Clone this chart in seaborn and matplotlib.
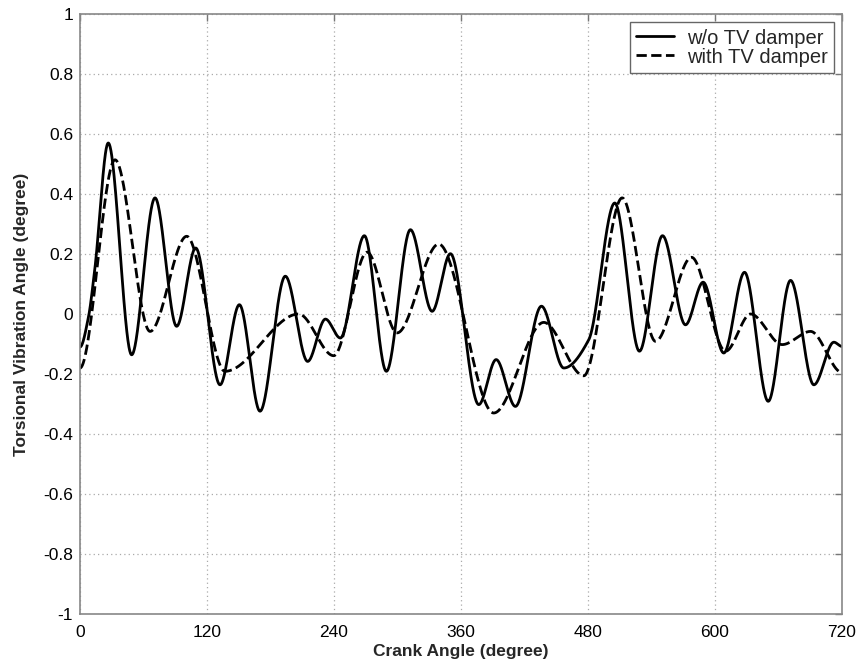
import numpy as np
import pandas as pd
import matplotlib
matplotlib.use("Agg")
import matplotlib.pyplot as plt
import seaborn as sns

# ---- data (turning points of each trace) ----
solid_deg = [0, 8, 14, 26.7, 48.8, 70.9, 91.3, 109.3, 132.3, 150.6, 170.1, 194.0,
             215.1, 231.9, 246.0, 268.7, 289.5, 312.2, 332.7, 350.0, 376.8, 393.2,
             411.4, 436.0, 457.1, 480.7, 505.3, 528.6, 550.4, 572.1, 588.8, 608.3,
             627.9, 650.3, 671.4, 693.4, 712.3, 720]
solid_val = [-0.11, -0.01, 0.15, 0.57, -0.136, 0.387, -0.041, 0.22, -0.236, 0.031, -0.324, 0.126,
             -0.158, -0.017, -0.08, 0.261, -0.191, 0.281, 0.009, 0.201, -0.302, -0.152,
             -0.308, 0.026, -0.18, -0.086, 0.37, -0.124, 0.261, -0.036, 0.106, -0.13,
             0.139, -0.291, 0.112, -0.236, -0.094, -0.108]

dashed_deg = [0, 33.1, 66.2, 100.8, 137.0, 206.6, 239.7, 271.3, 299.6, 338.9, 390.9,
              438.2, 476.0, 512.3, 543.8, 577.8, 610.0, 633.6, 663.5, 690.3, 720]
dashed_val = [-0.18, 0.514, -0.058, 0.259, -0.191, 0.0, -0.139, 0.206, -0.063, 0.233, -0.33,
              -0.028, -0.206, 0.387, -0.091, 0.189, -0.124, 0.0, -0.102, -0.058, -0.195]

series_names = ["w/o TV damper", "with TV damper"]
x_ticks = [0, 120, 240, 360, 480, 600, 720]
y_ticks = [1, 0.8, 0.6, 0.4, 0.2, 0, -0.2, -0.4, -0.6, -0.8, -1]
y_tick_labels = ["1", "0.8", "0.6", "0.4", "0.2", "0", "-0.2", "-0.4", "-0.6", "-0.8", "-1"]


def pchip(x, y, xs):
    x = np.asarray(x, float); y = np.asarray(y, float)
    h = np.diff(x); d = np.diff(y) / h
    n = len(x)
    m = np.zeros(n)
    for k in range(1, n - 1):
        if d[k - 1] * d[k] > 0:
            w1 = 2 * h[k] + h[k - 1]
            w2 = h[k] + 2 * h[k - 1]
            m[k] = (w1 + w2) / (w1 / d[k - 1] + w2 / d[k])
    idx = np.clip(np.searchsorted(x, xs, side="right") - 1, 0, n - 2)
    t = (xs - x[idx]) / h[idx]
    h00 = 2 * t**3 - 3 * t**2 + 1
    h10 = t**3 - 2 * t**2 + t
    h01 = -2 * t**3 + 3 * t**2
    h11 = t**3 - t**2
    return h00 * y[idx] + h10 * h[idx] * m[idx] + h01 * y[idx + 1] + h11 * h[idx] * m[idx + 1]


xs = np.linspace(0, 720, 2881)
df_solid = pd.DataFrame({"deg": xs, "val": pchip(solid_deg, solid_val, xs)})
df_dash = pd.DataFrame({"deg": xs, "val": pchip(dashed_deg, dashed_val, xs)})

sns.set_style("white")
plt.rcParams["font.family"] = ["Liberation Sans", "DejaVu Sans"]
plt.rcParams["axes.unicode_minus"] = False

fig = plt.figure(figsize=(8.62, 6.70), dpi=100)
ax = fig.add_axes([80 / 862, 1 - 614 / 670, 762 / 862, 600 / 670])

sns.lineplot(data=df_solid, x="deg", y="val", ax=ax, color="black", linewidth=2.0,
             label=series_names[0])
sns.lineplot(data=df_dash, x="deg", y="val", ax=ax, color="black", linewidth=2.0,
             linestyle="--", dashes=(3, 1.8), label=series_names[1])

ax.set_xlim(0, 720)
ax.set_ylim(-1, 1)
ax.set_xticks(x_ticks)
ax.set_xticklabels([str(t) for t in x_ticks])
ax.set_yticks(y_ticks)
ax.set_yticklabels(y_tick_labels)
ax.tick_params(direction="in", length=5, width=1, colors="#777777", labelcolor="black",
               labelsize=12.5, top=True, right=True, pad=5)
ax.tick_params(axis="x", pad=8)
ax.grid(True, linestyle=(0, (1, 2.5)), color="#aaaaaa", linewidth=0.9)
for s in ax.spines.values():
    s.set_color("#888888")
    s.set_linewidth(1.2)

ax.set_xlabel("Crank Angle (degree)", fontsize=12.5, fontweight="bold", labelpad=3)
ax.set_ylabel("Torsional Vibration Angle (degree)", fontsize=12.5, fontweight="bold", labelpad=10)

leg = ax.legend(loc="upper right", fontsize=14.5, frameon=True, fancybox=False,
                framealpha=1, borderaxespad=0.42, handlelength=1.85, borderpad=0.3,
                labelspacing=0.0, handletextpad=0.65)
leg.get_frame().set_edgecolor("#666666")
leg.get_frame().set_linewidth(1.0)

fig.savefig("out.png", dpi=100)
